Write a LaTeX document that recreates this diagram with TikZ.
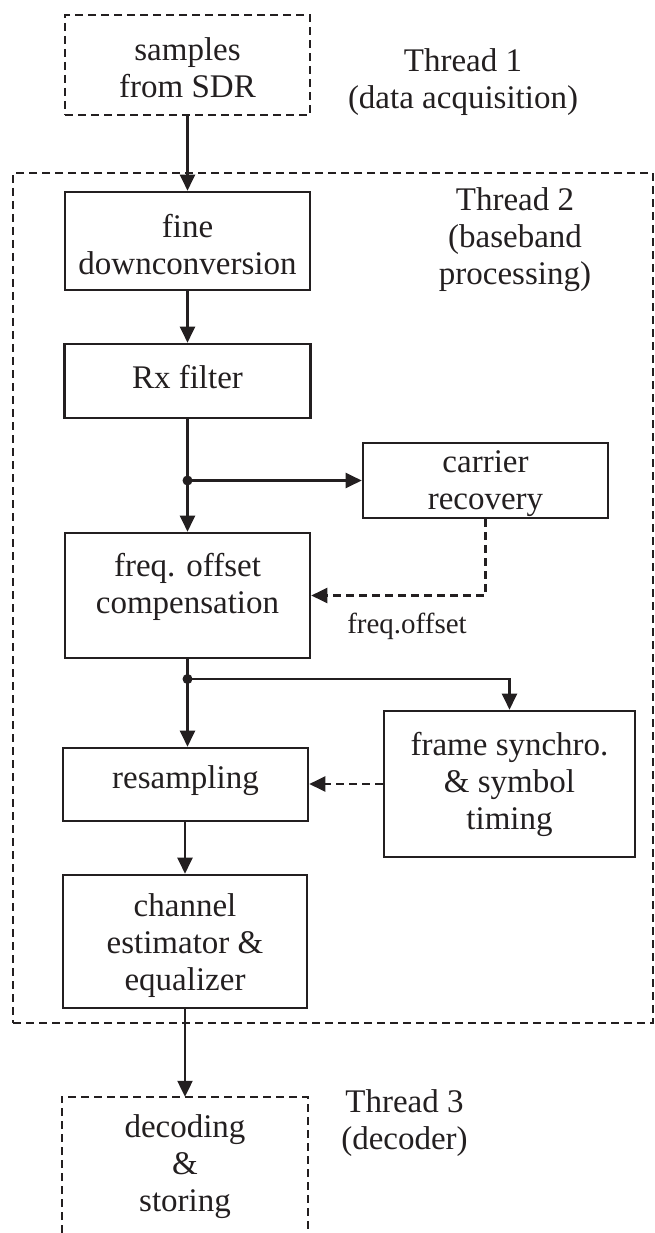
\documentclass[tikz,border=0pt]{standalone}
\usepackage{fontspec}
\setmainfont{Liberation Serif}
\usetikzlibrary{arrows.meta}
\definecolor{ink}{HTML}{231F20}
\newcommand\bodyfont{\fontsize{33}{37}\selectfont}
\newcommand\notefont{\fontsize{29}{34}\selectfont}
\begin{document}
\begin{tikzpicture}[x=1pt,y=-1pt,
  blk/.style={draw=ink, line width=2.6pt, inner sep=0pt},
  dsh/.style={draw=ink, line width=2.2pt, dash pattern=on 8pt off 5pt},
  txt/.style={text=ink, font=\bodyfont, align=center, inner sep=0pt},
  arr/.style={draw=ink, line width=2.2pt, -{Triangle[length=16pt,width=15pt]}},
  plain/.style={draw=ink, line width=2.2pt},
  darr/.style={arr, dash pattern=on 8pt off 5pt},
  jdot/.style={circle, fill=ink, inner sep=0pt, minimum size=10pt}]
\useasboundingbox (0,0) rectangle (655,1233);

% thread 2 frame
\node[dsh, inner sep=0pt, minimum width=640pt, minimum height=850pt] (t2) at (333,598) {};

% blocks
\node[dsh, inner sep=0pt, minimum width=245pt, minimum height=100pt,
  label={[txt,yshift=-3pt]center:{samples\\from SDR}}] (smp) at (187.5,65) {};
\node[blk, minimum width=245pt, minimum height=98pt,
  label={[txt,yshift=-4pt]center:{fine\\downconversion}}] (fine) at (187.5,241) {};
\node[blk, minimum width=246pt, minimum height=74pt,
  label={[txt,yshift=4pt]center:{Rx filter}}] (rx) at (187.5,381) {};
\node[blk, minimum width=245pt, minimum height=75pt,
  label={[txt,yshift=-3pt]center:{carrier\\recovery}}] (car) at (485.5,480.5) {};
\node[blk, minimum width=245pt, minimum height=125pt,
  label={[txt,yshift=9pt]center:{freq. offset\\compensation}}] (freq) at (187.5,595.5) {};
\node[blk, minimum width=245pt, minimum height=73pt,
  label={[txt,yshift=4pt]center:{resampling}}] (res) at (185.5,784.5) {};
\node[blk, minimum width=251pt, minimum height=146pt,
  label={[txt]center:{frame synchro.\\\& symbol\\timing}}] (frm) at (509.5,784) {};
\node[blk, minimum width=244pt, minimum height=133pt,
  label={[txt,yshift=-4pt]center:{channel\\estimator \&\\equalizer}}] (chan) at (185,941.5) {};
\node[inner sep=0pt, minimum width=246pt, minimum height=136pt,
  label={[txt,yshift=-2pt]center:{decoding\\\&\\storing}}] (dec) at (185,1165) {};
\draw[dsh] (dec.south west) -- (dec.north west) -- (dec.north east) -- (dec.south east);

% thread labels
\node[txt] (th1) at (463,82) {Thread 1\\(data acquisition)};
\node[txt] (th2) at (515,240) {Thread 2\\(baseband\\processing)};
\node[txt] (th3) at (404.5,1123) {Thread 3\\(decoder)};
\node[txt, font=\notefont] (fo) at (407,626) {freq.offset};

% connectors
\coordinate (j1) at (187.5,480.5);
\coordinate (j2) at (187.5,679);
\draw[arr] (smp.south) -- (fine.north);
\draw[arr] (fine.south) -- (rx.north);
\draw[plain] (rx.south) -- (j1);
\draw[arr] (j1) -- (freq.north);
\draw[arr] (j1) -- (car.west);
\node[jdot] (d1) at (j1) {};
\draw[darr] (car.south) |- (freq.east);
\draw[plain] (freq.south) -- (j2);
\draw[arr] (j2) -- (j2 |- res.north);
\draw[arr] (j2) -| (frm.north);
\node[jdot] (d2) at (j2) {};
\draw[darr] (frm.west) -- (frm.west -| res.east);
\draw[arr] (res.south -| chan.north) -- (chan.north);
\draw[arr] (chan.south) -- (dec.north);
\end{tikzpicture}
\end{document}
